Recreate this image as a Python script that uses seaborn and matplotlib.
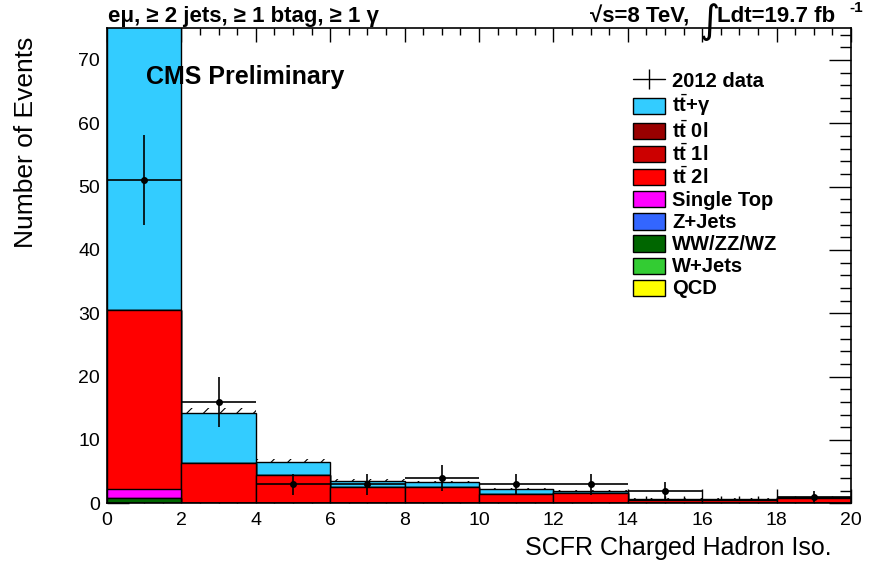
import numpy as np
import pandas as pd
import matplotlib
matplotlib.use("Agg")
import matplotlib.pyplot as plt
from matplotlib.patches import Patch, Rectangle
from matplotlib.lines import Line2D
from matplotlib.legend_handler import HandlerPatch
from matplotlib.ticker import MultipleLocator
import seaborn as sns

# binning of the isolation variable
edges = [0, 2, 4, 6, 8, 10, 12, 14, 16, 18, 20]
centers = [1, 3, 5, 7, 9, 11, 13, 15, 17, 19]

# MC expectations per bin
qcd      = [0, 0, 0, 0, 0, 0, 0, 0, 0, 0]
wjets    = [0, 0, 0, 0, 0, 0, 0, 0, 0, 0]
diboson  = [0.9, 0, 0, 0, 0, 0, 0, 0, 0, 0]
zjets    = [0, 0, 0, 0, 0, 0, 0, 0, 0, 0]
singletop = [1.4, 0, 0, 0, 0, 0, 0, 0, 0, 0]
tt2l     = [28.3, 6.3, 4.5, 2.5, 2.5, 1.5, 1.7, 0.6, 0.6, 0.8]
tt1l     = [0, 0, 0, 0, 0, 0, 0, 0, 0, 0]
tt0l     = [0, 0, 0, 0, 0, 0, 0, 0, 0, 0]
ttgamma  = [49.4, 8.0, 2.1, 1.1, 0.8, 0.7, 0.3, 0.15, 0.1, 0.15]
# upper part of the hatched MC uncertainty band
mc_unc   = [2.0, 0.8, 0.45, 0.25, 0.25, 0.15, 0.15, 0.1, 0.1, 0.1]

# 2012 data
data     = [51, 16, 3, 3, 4, 3, 3, 2, 0, 1]
data_err = [7.1, 4.0, 1.7, 1.7, 2.0, 1.7, 1.7, 1.4, 0, 1.0]

ttbar = r"t$\bar{\mathbf{t}}$"
labels = ["QCD", "W+Jets", "WW/ZZ/WZ", "Z+Jets", "Single Top",
          ttbar + " 2l", ttbar + " 1l", ttbar + " 0l", ttbar + "+\u03b3"]
colors = ["#ffff00", "#33cc33", "#006600", "#3366ff", "#ff00ff",
          "#ff0000", "#cc0000", "#990000", "#33ccff"]
layers = [qcd, wjets, diboson, zjets, singletop, tt2l, tt1l, tt0l, ttgamma]

sns.set_style("ticks")
plt.rcParams['font.family'] = ['Liberation Sans', 'DejaVu Sans']
plt.rcParams['mathtext.fontset'] = 'custom'
plt.rcParams['mathtext.rm'] = 'Liberation Sans'
plt.rcParams['mathtext.bf'] = 'Liberation Sans:bold'
plt.rcParams['hatch.linewidth'] = 0.8
for k in ['text.color', 'axes.labelcolor', 'xtick.color', 'ytick.color', 'axes.edgecolor']:
    plt.rcParams[k] = 'black'

fig = plt.figure(figsize=(8.96, 5.72), dpi=100)
ax = fig.add_axes([0.1194, 0.1201, 0.8304, 0.8304])

# stacked histogram: draw cumulative sums, tallest first
cum = np.cumsum(np.array(layers, dtype=float), axis=0)
for i in range(len(layers) - 1, -1, -1):
    df = pd.DataFrame({'x': centers, 'w': cum[i]})
    sns.histplot(data=df, x='x', weights='w', bins=edges, color=colors[i],
                 alpha=1, edgecolor='black', linewidth=1, ax=ax)

total = cum[-1]
ax.bar(centers, mc_unc, width=2, bottom=total, fill=False, hatch='//',
       edgecolor='black', linewidth=0, zorder=2)

# data points (empty bins not drawn)
d = pd.DataFrame({'x': centers, 'y': data, 'e': data_err})
d = d[d['y'] > 0]
ax.errorbar(d['x'], d['y'], xerr=1, yerr=d['e'], fmt='o', color='black',
            ms=4, elinewidth=1.2, capsize=0, zorder=4)

ax.set_xlim(0, 20)
ax.set_ylim(0, 75)
ax.xaxis.set_major_locator(MultipleLocator(2))
ax.xaxis.set_minor_locator(MultipleLocator(0.5))
ax.yaxis.set_major_locator(MultipleLocator(10))
ax.yaxis.set_minor_locator(MultipleLocator(2))
ax.tick_params(axis='x', which='major', direction='in', length=10, width=1,
               top=True, labelsize=14, pad=6)
ax.tick_params(axis='x', which='minor', direction='in', length=5, width=1, top=True)
ax.tick_params(axis='y', which='major', direction='in', length=16, width=1,
               right=True, labelsize=14, pad=5)
ax.tick_params(axis='y', which='minor', direction='in', length=8, width=1, right=True)
for s in ax.spines.values():
    s.set_linewidth(1.2)

ax.set_xlabel("SCFR Charged Hadron Iso.", fontsize=18, loc='right')
ax.xaxis.set_label_coords(0.9745, -0.068)
ax.set_ylabel("Number of Events", fontsize=19, loc='top')
ax.yaxis.set_label_coords(-0.093, 0.982)

# header texts
ybase = 1 - 22 / 572
fig.text(108 / 896, ybase, "e\u03bc, \u2265 2 jets, \u2265 1 btag, \u2265 1 \u03b3",
         fontsize=16, fontweight='bold', ha='left', va='baseline')
fig.text(590 / 896, ybase, "\u221as=8 TeV,", fontsize=16, fontweight='bold',
         ha='left', va='baseline')
fig.text(700 / 896, 1 - 22 / 572, "\u222b", fontsize=28, family='DejaVu Sans',
         ha='left', va='center')
fig.text(717 / 896, ybase, "Ldt=19.7 fb", fontsize=16, fontweight='bold',
         ha='left', va='baseline')
fig.text(849 / 896, 1 - 12 / 572, "-1", fontsize=11, fontweight='bold',
         ha='left', va='baseline')
ax.text(0.052, 0.8975, "CMS Preliminary", transform=ax.transAxes,
        fontsize=18, fontweight='bold', ha='left', va='center')


# legend boxes a bit shorter than the row height so all rows are even
def small_box(legend, orig_handle, xdescent, ydescent, width, height, fontsize):
    h = 0.8 * fontsize
    return Rectangle((-xdescent, -ydescent + (height - h) / 2), width, h)


handles = [Line2D([0], [0], color='black', lw=1, marker='|', ms=14, mew=1)]
leg_labels = ["2012 data"]
for i in range(len(layers) - 1, -1, -1):
    handles.append(Patch(facecolor=colors[i], edgecolor='black', linewidth=1))
    leg_labels.append(labels[i])
ax.legend(handles, leg_labels, loc='upper left', bbox_to_anchor=(0.696, 0.928),
          frameon=False, prop={'weight': 'bold', 'size': 14.5},
          handlelength=1.6, handleheight=1.12, labelspacing=0.07,
          handletextpad=0.35, borderaxespad=0,
          handler_map={Patch: HandlerPatch(patch_func=small_box)})

fig.savefig("out.png", dpi=100)
